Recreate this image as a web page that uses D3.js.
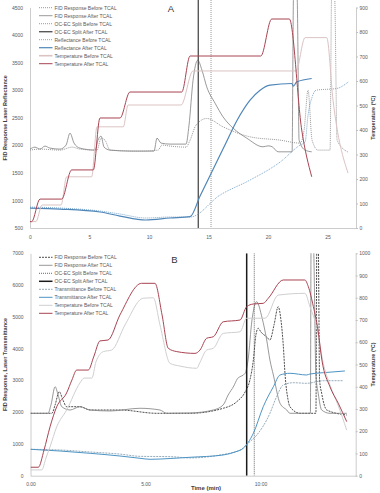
<!DOCTYPE html>
<meta charset="utf-8">
<script src="https://d3js.org/d3.v7.min.js"></script>
<style>
  body { margin: 0; background: #fff; }
  text { font-family: "Liberation Sans", Arial, sans-serif; }
</style>
<svg id="chart" width="380" height="493"></svg>
<script>
// ---------- Panel A : reflectance run, [time (min), value] ----------
var aTempAfter = [[0,26],[0.14,26],[0.84,118],[2.66,118],[3.5,237],[5.32,237],[5.88,449],[7.56,449],[8.4,555],[12.75,555],[13.45,702],[19.39,702],[20.31,853],[21.79,853],[22.83,400],[23.67,209]];
var aTempBefore = [[0,26],[0.5,26],[1.01,94],[2.61,94],[3.08,209],[5.18,209],[5.63,413],[7.84,413],[8.24,502],[12.69,502],[13.7,641],[22.35,641],[23.11,777],[24.93,777],[25.46,522],[26.72,224]];
var aFidAfter = [[0,1931],[0.42,1967],[0.84,1931],[1.26,1986],[1.68,1949],[2.52,1931],[3.03,2004],[3.36,2221],[3.7,2040],[4.2,1949],[5.46,1913],[5.71,2094],[5.97,2167],[6.22,1967],[6.72,1913],[8.4,1895],[10.42,1895],[10.67,2130],[11.01,2040],[11.76,2022],[13.11,2022],[13.36,2366],[13.7,3181],[14.09,3543],[14.45,3362],[14.85,3060],[15.55,2764],[16.22,2516],[17.06,2312],[18.21,2130],[19.58,1973],[20.0,1990],[20.34,1975],[20.84,1882],[22.02,1882],[22.14,4700],[22.44,4700],[22.61,2094],[23.11,1913],[23.67,1882]];
var aFidBefore = [[0,1913],[0.84,1931],[2.52,1913],[3.53,1967],[4.2,1931],[5.63,1913],[5.97,2130],[6.3,2094],[6.72,1913],[9.24,1895],[10.76,1913],[11.09,2004],[11.76,1986],[13.11,1967],[13.45,2094],[13.95,2366],[14.85,2487],[16.22,2335],[18.49,2154],[21.01,2094],[22.69,2040],[23.03,2275],[23.36,3000],[23.7,2094],[24.2,1913],[25.21,1913],[25.34,4700],[25.59,4700],[25.8,2094],[26.72,1877]];
var aReflAfter = [[0,862],[2.52,844],[5.88,790],[7.56,717],[9.73,645],[11.76,681],[13.45,705],[14.29,1080],[15.55,1640],[16.39,2010],[17.39,2450],[18.49,2819],[19.33,3000],[20.17,3091],[21.99,3121],[22.13,3072],[22.41,3150],[23.67,3212]];
var aReflBefore = [[0,880],[2.52,862],[5.88,808],[7.56,754],[9.73,681],[11.76,699],[13.45,699],[15.97,1098],[18.49,1370],[21.01,1696],[22.69,2004],[23.11,2058],[23.36,2547],[23.7,2873],[24.03,3000],[25.77,3031],[26.75,3150]];
var aSplitTimes = [15.21, 14.14];          // OC-EC split before, after
var aLeftTicks = [500,1000,1500,2000,2500,3000,3500,4000,4500];
var aRightTicks = [0,100,200,300,400,500,600,700,800,900];
var aTimeTicks = [0,5,10,15,20,25];

// ---------- Panel B : transmittance run ----------
var bTempAfter = [[0,38],[0.34,38],[0.59,116],[0.85,220],[1.14,310],[1.57,372],[1.8,430],[2.01,475],[2.51,475],[2.76,538],[3.02,606],[3.37,610],[3.89,723],[4.83,865],[5.41,865],[5.72,723],[5.99,573],[6.36,558],[7.15,550],[7.37,565],[7.66,618],[7.95,625],[8.38,692],[9.11,700],[9.4,760],[9.69,772],[10.12,775],[10.34,798],[10.99,880],[11.93,880],[12.08,850],[12.3,760],[12.5,655],[12.67,520],[13.02,400],[13.38,326],[13.75,243]];
var bTempBefore = [[0,26],[0.49,26],[0.67,79],[0.85,130],[1.14,220],[1.57,295],[2.15,417],[2.33,439],[2.67,439],[2.85,513],[3.17,558],[3.53,565],[4.11,678],[4.9,798],[5.34,800],[5.63,678],[6.07,505],[6.5,493],[7.23,483],[7.37,510],[7.66,565],[7.95,573],[8.38,640],[9.11,647],[9.4,708],[10.2,708],[10.77,812],[11.93,820],[12.15,760],[12.44,670],[12.73,505],[13.02,408],[13.37,318],[13.75,205]];
var bFidAfter = [[0,1964],[0.76,1964],[0.89,2228],[1.07,2801],[1.2,2540],[1.36,2172],[1.72,2068],[2.15,2172],[2.59,2068],[3.46,2037],[4.76,2122],[5.63,2068],[5.92,1964],[6.93,1974],[7.95,2068],[8.38,2228],[8.59,2535],[8.84,2823],[8.99,3044],[9.33,3223],[9.46,3642],[9.63,4900],[9.83,5477],[10.07,4964],[10.27,4271],[10.41,3642],[10.56,3170],[10.85,2279],[11.14,2068],[11.28,1964],[12.17,1964],[12.2,7300],[12.3,7300],[12.41,3170],[12.51,2594],[12.66,2068],[13.02,1964],[13.75,1964]];
var bFidBefore = [[0,1964],[0.93,1964],[1.07,2228],[1.25,2644],[1.41,2383],[1.57,2172],[2.15,2172],[2.59,2068],[3.89,2068],[5.49,1964],[6.93,1964],[8.38,2122],[8.97,2330],[9.33,2635],[9.54,3012],[9.69,3642],[9.8,4429],[9.9,4640],[10.02,4523],[10.27,4366],[10.41,4271],[10.59,4750],[10.77,5320],[10.89,4900],[10.99,4114],[11.07,3170],[11.2,2383],[11.28,2172],[11.72,1964],[12.41,1964],[12.45,7300],[12.51,7300],[12.57,3012],[12.66,2594],[12.88,2068],[13.75,1911]];
var bTransAfter = [[0,831],[1.28,777],[2.59,705],[3.89,620],[4.76,548],[5.2,516],[6.07,541],[6.93,579],[8.38,652],[8.89,746],[9.25,862],[9.69,1335],[10.12,2172],[10.56,2801],[10.85,3170],[11.28,3223],[12.01,3170],[12.15,3201],[12.73,3242],[13.67,3296]];
var bTransBefore = [[0,831],[1.28,809],[2.59,746],[3.89,680],[4.76,610],[6.07,600],[6.93,560],[8.24,652],[9.11,809],[9.54,1070],[9.84,1281],[10.41,1964],[10.7,2487],[10.99,2855],[11.43,2927],[12.01,2908],[12.73,2990],[13.6,2990]];
var bSplitTimes = [9.73, 9.4];            // OC-EC split before, after
var bLeftTicks = [0,1000,2000,3000,4000,5000,6000,7000];
var bRightTicks = [0,100,200,300,400,500,600,700,800,900,1000];
var bTimeTicks = [0,5,10];
var bTimeLabels = ["0.00","5.00","10:00"];

var red = "#a84452";
var svg = d3.select("#chart");

function drawPanel(p) {
  var x = d3.scaleLinear().domain(p.xDomain).range([p.left, p.right]);
  var yL = d3.scaleLinear().domain(p.yLeft).range([p.bottom, p.top]);
  var yR = d3.scaleLinear().domain(p.yRight).range([p.bottom, p.top]);
  var g = svg.append("g");

  g.append("clipPath").attr("id", "clip" + p.id)
    .append("rect")
    .attr("x", p.left).attr("y", p.clipTop)
    .attr("width", p.right - p.left).attr("height", p.bottom - p.clipTop);

  // axes
  var ax = g.append("g").attr("class", "axes");
  ax.append("g").attr("transform", "translate(" + p.left + ",0)")
    .call(d3.axisLeft(yL).tickValues(p.leftTicks).tickSize(0).tickPadding(7).tickFormat(d3.format("d")));
  ax.append("g").attr("transform", "translate(" + p.right + ",0)")
    .call(d3.axisRight(yR).tickValues(p.rightTicks).tickSize(2).tickSizeOuter(0).tickPadding(1.5).tickFormat(d3.format("d")));
  ax.append("g").attr("transform", "translate(0," + p.bottom + ")")
    .call(d3.axisBottom(x).tickValues(p.timeTicks).tickSize(0).tickPadding(7)
      .tickFormat(function (d, i) { return p.timeLabels ? p.timeLabels[i] : d; }));
  ax.selectAll("path.domain").attr("stroke", "#bfbfbf").attr("stroke-width", 0.8);
  ax.selectAll(".tick line").attr("stroke", "#bfbfbf");
  ax.selectAll("text").attr("fill", "#595959").attr("font-size", 5);

  var plot = g.append("g").attr("clip-path", "url(#clip" + p.id + ")");

  p.series.forEach(function (s) {
    if (s.split !== undefined) {
      plot.append("line")
        .attr("x1", x(s.split)).attr("x2", x(s.split))
        .attr("y1", p.clipTop).attr("y2", p.bottom)
        .attr("stroke", s.color).attr("stroke-width", s.width)
        .attr("stroke-dasharray", s.dash || null);
      return;
    }
    var y = s.axis === "right" ? yR : yL;
    var line = d3.line().x(function (d) { return x(d[0]); }).y(function (d) { return y(d[1]); })
      .curve(d3.curveMonotoneX);
    plot.append("path").datum(s.data)
      .attr("d", line)
      .attr("fill", "none")
      .attr("stroke", s.color).attr("stroke-width", s.width)
      .attr("stroke-dasharray", s.dash || null)
      .attr("stroke-linejoin", "round");
  });

  // legend
  var lg = g.append("g");
  p.series.forEach(function (s, i) {
    var yy = p.legendY + i * 8;
    lg.append("line").attr("x1", 39).attr("x2", 52.5).attr("y1", yy).attr("y2", yy)
      .attr("stroke", s.color).attr("stroke-width", s.legendWidth || s.width)
      .attr("stroke-dasharray", s.dash || null);
    lg.append("text").attr("x", 54.5).attr("y", yy + 1.8)
      .attr("font-size", 5).attr("fill", "#595959").text(s.name);
  });

  // titles
  g.append("text").attr("x", p.letterX).attr("y", p.letterY).attr("text-anchor", "middle")
    .attr("font-size", 9.5).attr("fill", "#333").text(p.letter);
  var mid = (p.top + p.bottom) / 2;
  g.append("text").attr("transform", "translate(7," + mid + ") rotate(-90)")
    .attr("text-anchor", "middle").attr("font-size", 5.5).attr("font-weight", "bold")
    .attr("fill", "#404040").text(p.leftTitle);
  g.append("text").attr("transform", "translate(375," + mid + ") rotate(-90)")
    .attr("text-anchor", "middle").attr("font-size", 5.5).attr("font-weight", "bold")
    .attr("fill", "#404040").text("Temperature (\u00baC)");
  if (p.timeTitle) {
    g.append("text").attr("x", 206).attr("y", 490).attr("text-anchor", "middle")
      .attr("font-size", 6).attr("font-weight", "bold").attr("fill", "#404040").text(p.timeTitle);
  }
}

drawPanel({
  id: "A", left: 30, right: 356, top: 7.5, bottom: 228, clipTop: 0,
  xDomain: [0, 27.39], yLeft: [500, 4500], yRight: [0, 900],
  leftTicks: aLeftTicks, rightTicks: aRightTicks, timeTicks: aTimeTicks,
  letter: "A", letterX: 171, letterY: 11.7, legendY: 7.7,
  leftTitle: "FID Response Laser Reflectance",
  series: [
    { name: "FID Response Before TCAL", data: aFidBefore, color: "#8c8c8c", width: 0.9, dash: "1,1" },
    { name: "FID Response After TCAL", data: aFidAfter, color: "#808080", width: 0.8 },
    { name: "OC-EC Split Before TCAL", split: aSplitTimes[0], color: "#7f7f7f", width: 0.8, dash: "1,1" },
    { name: "OC-EC Split After TCAL", split: aSplitTimes[1], color: "#595959", width: 1.4 },
    { name: "Reflectance Before TCAL", data: aReflBefore, color: "#6d9ec6", width: 0.9, dash: "1,1" },
    { name: "Reflectance After TCAL", data: aReflAfter, color: "#4f86b8", width: 1.2 },
    { name: "Temperature Before TCAL", data: aTempBefore, axis: "right", color: "#dbc3c4", width: 1.0, legendWidth: 1.6 },
    { name: "Temperature After TCAL", data: aTempAfter, axis: "right", color: red, width: 1.0 }
  ]
});

drawPanel({
  id: "B", left: 30.5, right: 355.7, top: 253.3, bottom: 475.7, clipTop: 253.3,
  xDomain: [0, 14.14], yLeft: [0, 7000], yRight: [0, 1000],
  leftTicks: bLeftTicks, rightTicks: bRightTicks, timeTicks: bTimeTicks, timeLabels: bTimeLabels,
  letter: "B", letterX: 174.5, letterY: 262.7, legendY: 257.3,
  leftTitle: "FID Response, Laser Transmittance", timeTitle: "Time (min)",
  series: [
    { name: "FID Response Before TCAL", data: bFidBefore, color: "#3a3a3a", width: 0.9, dash: "2,1" },
    { name: "FID Response After TCAL", data: bFidAfter, color: "#7f7f7f", width: 0.8 },
    { name: "OC-EC Split Before TCAL", split: bSplitTimes[0], color: "#404040", width: 0.8, dash: "1,1" },
    { name: "OC-EC Split After TCAL", split: bSplitTimes[1], color: "#1a1a1a", width: 1.5 },
    { name: "Transmittance Before TCAL", data: bTransBefore, color: "#8aa3b3", width: 0.9, dash: "2,1" },
    { name: "Transmittance After TCAL", data: bTransAfter, color: "#4d94c4", width: 1.0 },
    { name: "Temperature Before TCAL", data: bTempBefore, axis: "right", color: "#cfcfcf", width: 1.0 },
    { name: "Temperature After TCAL", data: bTempAfter, axis: "right", color: red, width: 1.0 }
  ]
});
</script>
